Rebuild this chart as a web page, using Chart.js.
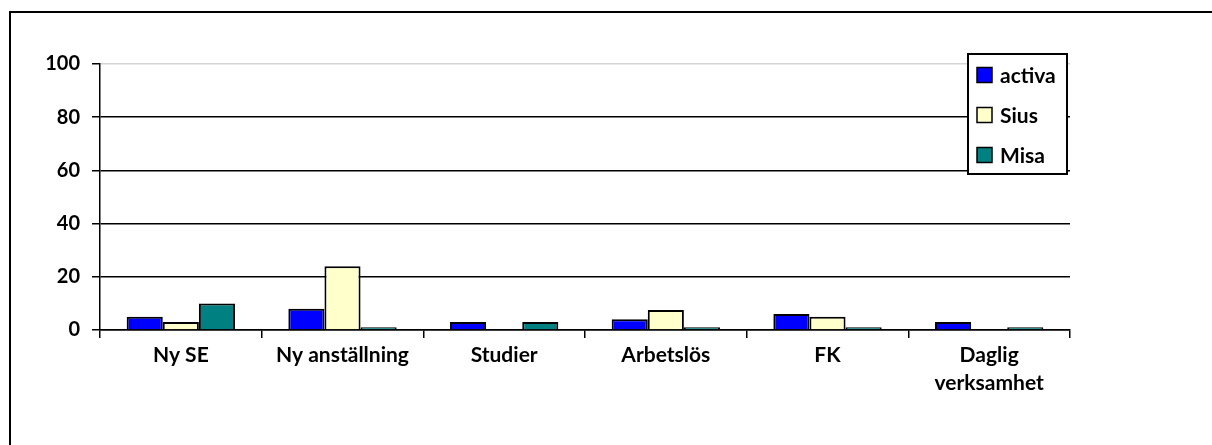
<!DOCTYPE html>
<html>
<head>
<meta charset="utf-8">
<script src="https://cdn.jsdelivr.net/npm/chart.js@4.4.1/dist/chart.umd.min.js"></script>
<style>
  html, body { margin: 0; padding: 0; background: #fff; }
  #wrap { position: relative; width: 1212px; height: 445px; overflow: hidden; }
  #frame { position: absolute; left: 9px; top: 11px; width: 1300px; height: 500px;
           border-left: 2px solid #000; border-top: 2px solid #000; }
  canvas { position: absolute; left: 0; top: 0; }
</style>
</head>
<body>
<div id="wrap">
  <div id="frame"></div>
  <canvas id="chart" width="1212" height="445"></canvas>
</div>
<script>
const categories = ["Ny SE", "Ny anställning", "Studier", "Arbetslös", "FK", ["Daglig", "verksamhet"]];
const activa = [5, 8, 3, 4, 6, 3];
const sius = [3, 24, 0, 7.5, 5, 0];
const misa = [10, 1, 3, 1, 1, 1];
const yTicks = [0, 20, 40, 60, 80, 100];

const FAMILY = "Lato, 'Open Sans', sans-serif";

// legend drawn as a framed box inside the plot, like the original
const boxLegend = {
  id: "boxLegend",
  afterDraw(chart) {
    const ctx = chart.ctx;
    const x = 968, y = 54, w = 99, h = 120;
    ctx.save();
    ctx.fillStyle = "#fff";
    ctx.fillRect(x, y, w, h);
    ctx.strokeStyle = "#000";
    ctx.lineWidth = 2;
    ctx.strokeRect(x, y, w, h);
    ctx.font = "bold 21px " + FAMILY;
    ctx.textBaseline = "middle";
    chart.data.datasets.forEach((ds, i) => {
      const cy = y + 21 + i * 40;
      ctx.fillStyle = ds.backgroundColor;
      ctx.fillRect(x + 9, cy - 7.5, 15, 15);
      ctx.lineWidth = 1.5;
      ctx.strokeRect(x + 9, cy - 7.5, 15, 15);
      ctx.fillStyle = "#000";
      ctx.fillText(ds.label, x + 32, cy + 1);
    });
    ctx.restore();
  }
};

const bar = (label, data, color) => ({
  label: label,
  data: data,
  backgroundColor: color,
  borderColor: "#000",
  borderWidth: 2,
  borderSkipped: "bottom",
  categoryPercentage: 0.67,
  barPercentage: 1.0,
});

new Chart(document.getElementById("chart").getContext("2d"), {
  type: "bar",
  data: {
    labels: categories,
    datasets: [
      bar("activa", activa, "#0000FF"),
      bar("Sius", sius, "#FFFFCC"),
      bar("Misa", misa, "#008080"),
    ],
  },
  options: {
    responsive: false,
    animation: false,
    layout: { padding: { left: 0, top: 64, right: 142, bottom: 0 } },
    plugins: { legend: { display: false }, tooltip: { enabled: false } },
    scales: {
      x: {
        offset: true,
        grid: { offset: true, drawOnChartArea: false, drawTicks: true, tickLength: 8, color: "#000", lineWidth: 1.5 },
        border: { color: "#000", width: 1.5 },
        ticks: {
          color: "#000",
          font: { family: FAMILY, size: 21, weight: "bold", lineHeight: 1.3 },
          padding: 4, maxRotation: 0, autoSkip: false,
        },
        afterFit: (s) => { s.height = 115; },
      },
      y: {
        min: 0,
        max: 100,
        afterBuildTicks: (s) => { s.ticks = yTicks.map(v => ({ value: v })); },
        grid: {
          color: (c) => (c.tick && c.tick.value === 100 ? "#d4d4d4" : "#000"),
          tickColor: "#000",
          tickLength: 8,
          lineWidth: 1.5,
        },
        border: { color: "#000", width: 1.5 },
        ticks: { color: "#000", font: { family: FAMILY, size: 20, weight: "bold" }, padding: 12 },
        afterFit: (s) => { s.width = 100; },
      },
    },
  },
  plugins: [boxLegend],
});
</script>
</body>
</html>
